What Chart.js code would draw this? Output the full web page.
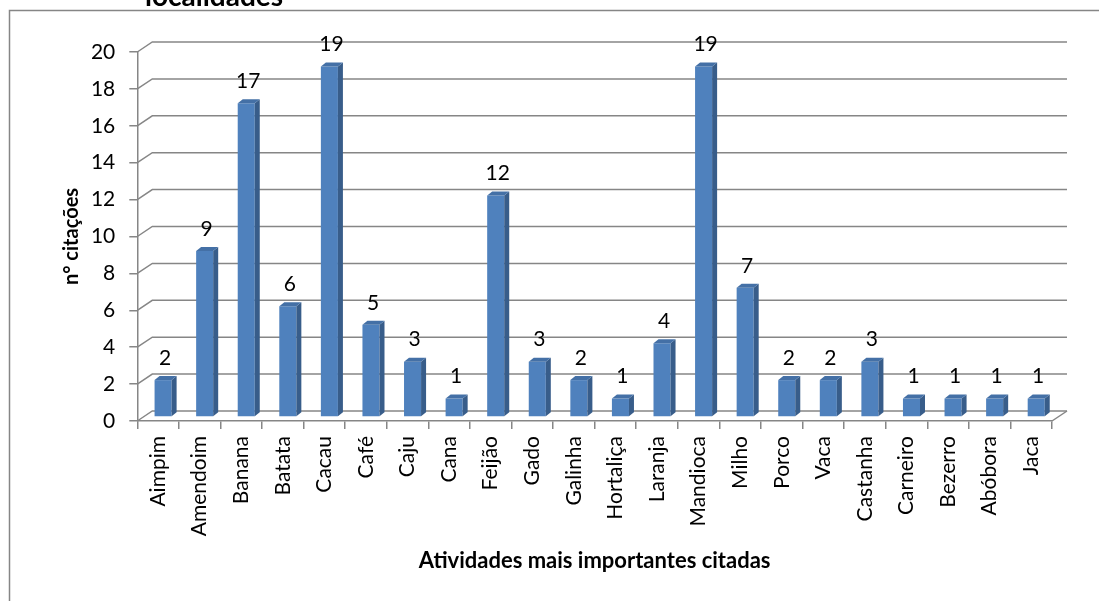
<!DOCTYPE html>
<html>
<head>
<meta charset="utf-8">
<script src="https://cdn.jsdelivr.net/npm/chart.js@4.4.1/dist/chart.umd.min.js"></script>
<style>
  html, body { margin: 0; padding: 0; background: #fff; }
  #wrap { width: 1099px; height: 601px; }
</style>
</head>
<body>
<div id="wrap"><canvas id="citacoesChart" width="1099" height="601"></canvas></div>
<script>
// Atividades mais importantes citadas nas localidades

const categorias = ['Aimpim', 'Amendoim', 'Banana', 'Batata', 'Cacau', 'Café', 'Caju', 'Cana',
    'Feijão', 'Gado', 'Galinha', 'Hortaliça', 'Laranja', 'Mandioca', 'Milho', 'Porco', 'Vaca',
    'Castanha', 'Carneiro', 'Bezerro', 'Abóbora', 'Jaca'];
const citacoes = [2, 9, 17, 6, 19, 5, 3, 1, 12, 3, 2, 1, 4, 19, 7, 2, 2, 3, 1, 1, 1, 1];
const yTicks = [0, 2, 4, 6, 8, 10, 12, 14, 16, 18, 20];

const FONT = "Lato, 'Noto Sans', sans-serif";
const GRID = '#868686';
const DEPTH_X = 15, DEPTH_Y = -10;   // back wall offset
const BAR_DX = 5, BAR_DY = -4;       // bars sit halfway into the floor
const SIDE = 5, CAP = 4;             // bar side / top thickness

// back wall grid lines + diagonals from the front axis
const wallPlugin = {
    id: 'wall3d',
    beforeDatasetsDraw(chart) {
        const ctx = chart.ctx;
        const y = chart.scales.y;
        const L = chart.chartArea.left, R = chart.chartArea.right;
        ctx.save();
        ctx.strokeStyle = GRID;
        ctx.lineWidth = 1.5;
        yTicks.forEach(function(v) {
            const py = y.getPixelForValue(v);
            ctx.beginPath();
            ctx.moveTo(L, py);
            ctx.lineTo(L + DEPTH_X, py + DEPTH_Y);
            ctx.lineTo(R + DEPTH_X, py + DEPTH_Y);
            ctx.stroke();
        });
        const p0 = y.getPixelForValue(0);
        ctx.beginPath();
        ctx.moveTo(R, p0);
        ctx.lineTo(R + DEPTH_X, p0 + DEPTH_Y);
        ctx.stroke();
        ctx.restore();

        // shift the bars back into the floor
        ctx.save();
        ctx.translate(BAR_DX, BAR_DY);
    },
    afterDatasetsDraw(chart) {
        const ctx = chart.ctx;
        const meta = chart.getDatasetMeta(0);
        meta.data.forEach(function(bar) {
            const p = bar.getProps(['x', 'y', 'base', 'width'], true);
            const r = p.x + p.width / 2;
            const l = p.x - p.width / 2;
            // side face
            ctx.fillStyle = '#385d8a';
            ctx.beginPath();
            ctx.moveTo(r, p.base);
            ctx.lineTo(r + SIDE, p.base - CAP);
            ctx.lineTo(r + SIDE, p.y - CAP);
            ctx.lineTo(r, p.y);
            ctx.closePath();
            ctx.fill();
            // top face
            ctx.fillStyle = '#4470a6';
            ctx.beginPath();
            ctx.moveTo(l, p.y);
            ctx.lineTo(l + SIDE, p.y - CAP);
            ctx.lineTo(r + SIDE, p.y - CAP);
            ctx.lineTo(r, p.y);
            ctx.closePath();
            ctx.fill();
        });
        ctx.restore();

        // value labels
        ctx.save();
        ctx.font = '21px ' + FONT;
        ctx.fillStyle = '#000';
        ctx.textAlign = 'center';
        ctx.textBaseline = 'middle';
        meta.data.forEach(function(bar, i) {
            const p = bar.getProps(['x', 'y'], true);
            ctx.fillText(String(citacoes[i]), p.x + BAR_DX + 2, p.y + BAR_DY - CAP - 18);
        });
        ctx.restore();
    },
    afterDraw(chart) {
        const ctx = chart.ctx;
        ctx.save();
        // outer frame (continues past the right and bottom edge)
        ctx.strokeStyle = GRID;
        ctx.lineWidth = 1.5;
        ctx.strokeRect(9.5, 10.5, 1200, 700);
        // cut-off chart title
        ctx.font = 'bold 28px ' + FONT;
        ctx.fillStyle = '#000';
        ctx.textAlign = 'left';
        ctx.textBaseline = 'alphabetic';
        ctx.fillText('localidades', 145, 6);
        ctx.restore();
    }
};

document.addEventListener('DOMContentLoaded', function() {
    const canvas = document.getElementById('citacoesChart');
    const ctx = canvas.getContext('2d');

    Chart.defaults.font.family = FONT;
    Chart.defaults.color = '#000';

    new Chart(ctx, {
        type: 'bar',
        data: {
            labels: categorias,
            datasets: [{
                label: 'nº citações',
                data: citacoes,
                backgroundColor: '#4f81bd',
                borderWidth: 0,
                barPercentage: 0.41,
                categoryPercentage: 1,
                clip: false
            }]
        },
        options: {
            responsive: false,
            animation: false,
            layout: {
                padding: { left: 56, right: 47, top: 52, bottom: 23 }
            },
            plugins: {
                legend: { display: false },
                tooltip: { enabled: false }
            },
            scales: {
                x: {
                    afterFit: function(scale) { scale.height = 157; },
                    grid: {
                        offset: true,
                        drawOnChartArea: false,
                        tickLength: 8,
                        color: GRID,
                        lineWidth: 1.5
                    },
                    border: { display: true, color: GRID, width: 1.5 },
                    ticks: {
                        autoSkip: false,
                        minRotation: 90,
                        maxRotation: 90,
                        padding: 7,
                        font: { size: 21 }
                    },
                    title: {
                        display: true,
                        text: 'Atividades mais importantes citadas',
                        font: { size: 22, weight: 'bold' },
                        padding: { top: 4, bottom: 4 }
                    }
                },
                y: {
                    min: 0,
                    max: 20,
                    afterFit: function(scale) { scale.width = 81.3; },
                    grid: {
                        drawOnChartArea: false,
                        tickLength: 8,
                        color: GRID,
                        lineWidth: 1.5
                    },
                    border: { display: true, color: GRID, width: 1.5 },
                    ticks: {
                        stepSize: 2,
                        padding: 14,
                        font: { size: 21 }
                    },
                    title: {
                        display: true,
                        text: 'n° citações',
                        font: { size: 20, weight: 'bold' },
                        padding: { top: 4, bottom: 4 }
                    }
                }
            }
        },
        plugins: [wallPlugin]
    });
});
</script>
</body>
</html>
